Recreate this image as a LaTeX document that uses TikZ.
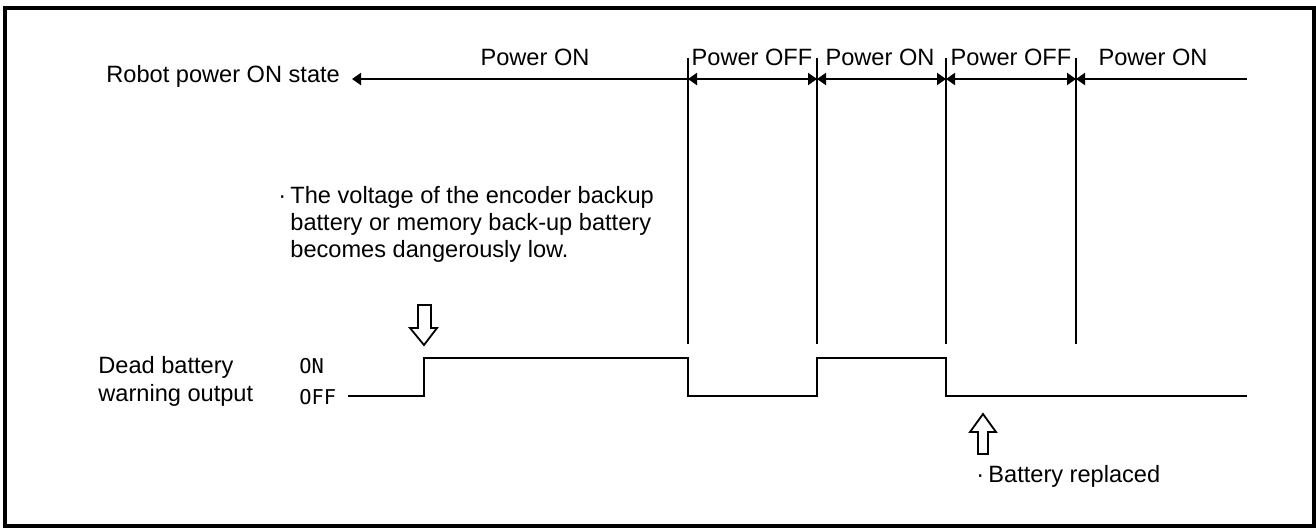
\documentclass[tikz,border=0pt]{standalone}
\usepackage{fontspec}
\setmainfont{Liberation Sans}
\newfontfamily\monofnt{DejaVu Sans Mono}
\usetikzlibrary{arrows.meta}
\begin{document}
\begin{tikzpicture}[x=0.5pt,y=-0.5pt,
  lbl/.style={inner sep=0pt,font=\fontsize{11.8pt}{14pt}\selectfont},
  lvl/.style={inner sep=0pt,font=\monofnt\fontsize{10.2pt}{12pt}\selectfont},
  ln/.style={line width=1pt},
  tip/.style={-{Triangle[length=4.5pt,width=6pt]}},
  hollow/.style={line width=0.9pt,fill=white,line join=miter}]
\useasboundingbox (0,0) rectangle (1316,527);
\draw[line width=1.6pt] (5,8) rectangle (1314,526);
% time points
\coordinate (t0) at (352,79);
\coordinate (t1) at (688,79);
\coordinate (t2) at (817,79);
\coordinate (t3) at (946,79);
\coordinate (t4) at (1076,79);
\coordinate (t5) at (1247,79);
\foreach \n/\x in {1/688,2/817,3/946,4/1076}{
  \coordinate (v\n top) at (\x,58);
  \coordinate (v\n bot) at (\x,344);
  \draw[ln] (v\n top) -- (v\n bot);
}
% state arrows
\draw[ln,tip] (t1) -- (t0);
\draw[ln,tip] (t1) -- (t2);
\draw[ln,tip] (t2) -- (t1);
\draw[ln,tip] (t2) -- (t3);
\draw[ln,tip] (t3) -- (t2);
\draw[ln,tip] (t3) -- (t4);
\draw[ln,tip] (t4) -- (t3);
\draw[ln,tip] (t5) -- (t4);
% labels
\node[lbl,anchor=base west] (robot) at (106,82) {Robot power ON state};
\node[lbl,anchor=base] (p1) at (535,65) {Power ON};
\node[lbl,anchor=base] (p2) at (752,65) {Power OFF};
\node[lbl,anchor=base] (p3) at (880,65) {Power ON};
\node[lbl,anchor=base] (p4) at (1011,65) {Power OFF};
\node[lbl,anchor=base] (p5) at (1153,65) {Power ON};
% description
\node[lbl,anchor=base west] (d0) at (278,203) {\textperiodcentered};
\node[lbl,anchor=base west] (d1) at (290,203) {The voltage of the encoder backup};
\node[lbl,anchor=base west] (d2) at (290,230) {battery or memory back-up battery};
\node[lbl,anchor=base west] (d3) at (290,257) {becomes dangerously low.};
% signal
\node[lbl,anchor=base west] (dead1) at (98,373) {Dead battery};
\node[lbl,anchor=base west] (dead2) at (98,401) {warning output};
\node[lvl,anchor=base west] (on) at (299,373) {ON};
\node[lvl,anchor=base west] (off) at (299,404) {OFF};
\coordinate (s0) at (348,396);
\draw[ln,line join=miter] (s0) -- (424,396) -- (424,358) -- (688,358) -- (688,396) -- (817,396)
  -- (817,358) -- (946,358) -- (946,396) -- (1247,396);
% hollow arrows
\draw[hollow] (418,305) -- (431,305) -- (431,328) -- (437,328) -- (424,345) -- (410,328) -- (418,328) -- cycle;
\draw[hollow] (978,454) -- (988,454) -- (988,432) -- (996,432) -- (983,414) -- (970,432) -- (978,432) -- cycle;
\node[lbl,anchor=base west] (r0) at (976,482) {\textperiodcentered};
\node[lbl,anchor=base west] (r1) at (988,482) {Battery replaced};
\end{tikzpicture}
\end{document}
